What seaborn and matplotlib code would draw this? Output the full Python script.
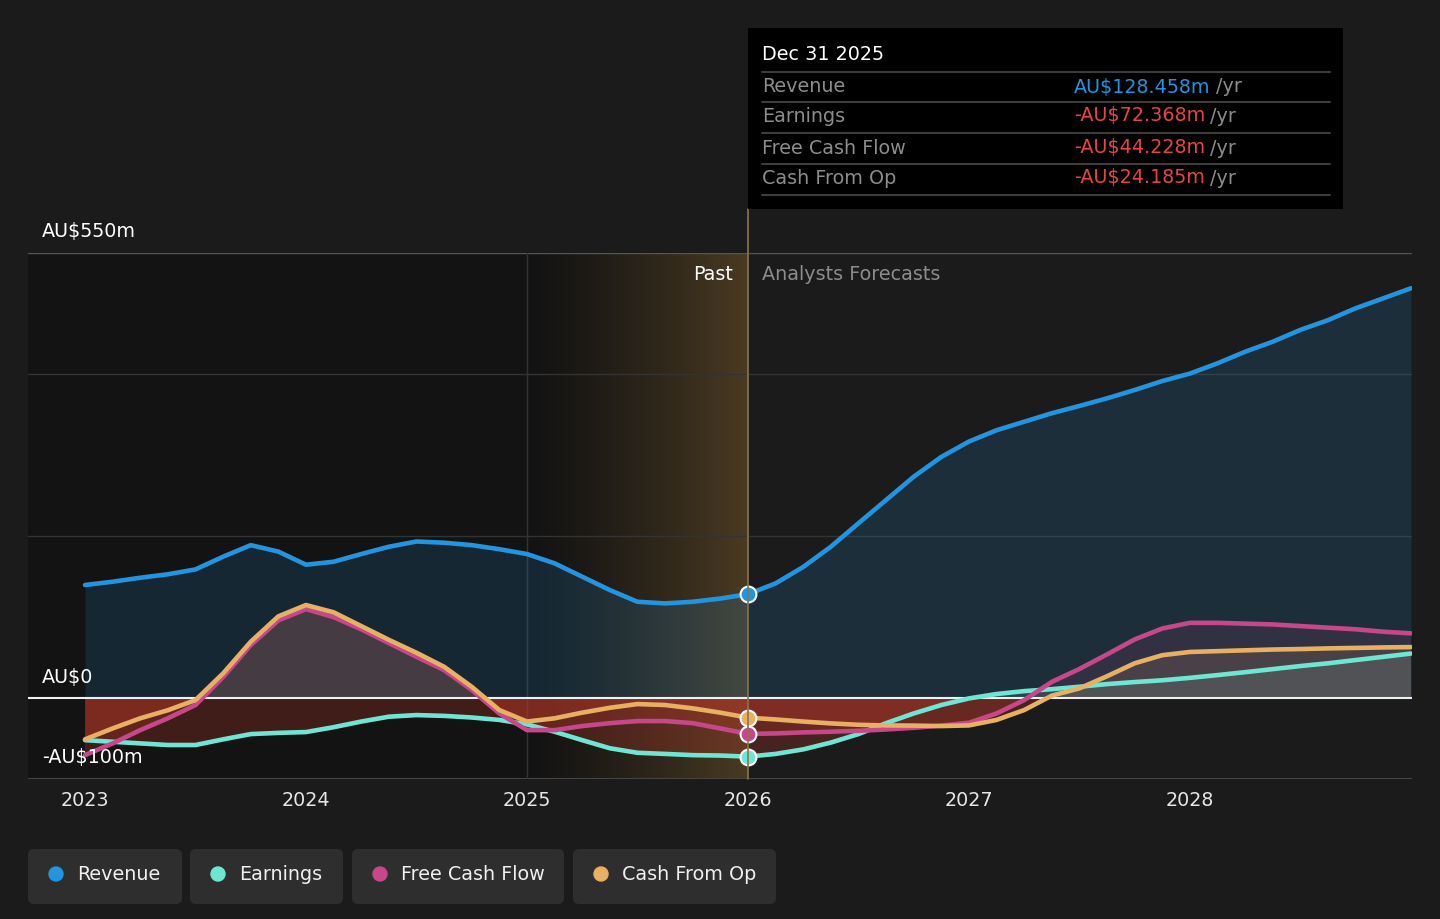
import matplotlib
matplotlib.use('Agg')

import matplotlib.pyplot as plt
import matplotlib.transforms as mtransforms
from matplotlib.patches import FancyBboxPatch, Rectangle
from matplotlib.lines import Line2D
import numpy as np
import pandas as pd
import seaborn as sns

sns.set_style("dark")
plt.rcParams['font.family'] = ['DejaVu Sans']

# values (AU$ m), every 1/8 year from 2023 to 2029
years = list(np.arange(49) / 8 + 2023)
revenue = [139.7, 143.8, 148.7, 153, 159, 174.7, 189, 181,
           164.8, 168.5, 178, 187, 193.5, 192, 189, 184,
           178, 166.5, 150, 133.5, 119, 117, 119, 123,
           128.458, 141.7, 162, 187, 216, 244.7, 273.5, 298,
           317, 331, 341.5, 352, 361, 370.4, 380.7, 391.8,
           401, 413.7, 428, 440.4, 455, 467, 481.7, 494, 506.4]
earnings = [-52, -54, -56, -58, -58, -51, -44.5, -43,
            -42, -36, -29, -23, -21, -22, -24, -27,
            -32.5, -41.6, -52, -62, -67.6, -69, -70.5, -71,
            -72.368, -69, -63.4, -55, -44.5, -31, -19, -8.6,
            -0.4, 5, 8.6, 11, 14, 17.3, 19.8, 22,
            25, 28.4, 32, 35.8, 39.6, 43, 47, 51, 55]
free_cash_flow = [-70.5, -56, -39.6, -25, -8.6, 26, 65.5, 96,
                  110, 100, 85, 68, 51, 34.6, 10, -19,
                  -39.6, -39.6, -34.6, -31, -28.4, -28.4, -31, -37.5,
                  -44.228, -43.7, -42.4, -41.6, -40.4, -38.8, -36.7, -34,
                  -30.5, -19, -2.5, 20, 36, 54, 72.5, 86,
                  93, 93, 92, 91, 89, 87, 85, 82, 80]
cash_from_op = [-51, -37.5, -25, -15, -2.5, 30.5, 69.6, 101,
                115, 106, 89, 72, 56, 38.7, 14, -14.8,
                -29, -25, -18, -12, -7.4, -8.6, -12.7, -18,
                -24.185, -26.4, -29, -31.3, -33, -33.8, -34, -34.6,
                -33.8, -27, -14.8, 3, 12, 27, 43, 53,
                57, 58, 59, 60, 60.6, 61.4, 62, 62.6, 63]

series_names = ["Revenue", "Earnings", "Free Cash Flow", "Cash From Op"]
series_vals = [revenue, earnings, free_cash_flow, cash_from_op]
colors = ["#2394df", "#6ee6d3", "#c7478b", "#e8b062"]

y_ticks = [550, 0, -100]
y_tick_labels = ["AU$550m", "AU$0", "-AU$100m"]
grid_vals = [400, 200]
x_ticks = [2023, 2024, 2025, 2026, 2027, 2028]

tip_title = "Dec 31 2025"
tip_values = ["AU$128.458m", "-AU$72.368m", "-AU$44.228m", "-AU$24.185m"]

BG = "#1b1b1b"
W, H = 1440, 919
FS = 13.8

df = pd.DataFrame({"year": years})
for n, v in zip(series_names, series_vals):
    df[n] = v
long = df.melt(id_vars="year", var_name="series", value_name="value")

fig = plt.figure(figsize=(W / 100, H / 100), dpi=100, facecolor=BG, edgecolor=BG)
fig.patch.set_linewidth(0)
# full background so no half-covered pixel at the edge
fig.add_artist(Rectangle((-0.05, -0.05), 1.1, 1.1, transform=fig.transFigure,
                         facecolor=BG, edgecolor="none", antialiased=False, zorder=-10))
ax = fig.add_axes([28 / W, 1 - 779 / H, 1384 / W, 526 / H])
ax.set_facecolor(BG)
xmin, xmax = 2023 - 57 / 221, 2029.005
for s in ax.spines.values():
    s.set_visible(False)

# past region shading + highlighted last year
ax.axvspan(xmin, 2025, color="#131313", zorder=0, lw=0)
grad = np.zeros((1, 256, 4))
c0 = np.array([0x13, 0x13, 0x13]) / 255
c1 = np.array([0x4a, 0x3a, 0x22]) / 255
t = np.linspace(0, 1, 256) ** 1.3
grad[0, :, :3] = c0 + (c1 - c0) * t[:, None]
grad[0, :, 3] = 1
ax.imshow(grad, extent=[2025, 2026, -100, 550], aspect="auto", zorder=0.5)
ax.set_xlim(xmin, xmax)
ax.set_ylim(-100, 550)

# grid lines
ax.axhline(550, color="#555555", lw=1, zorder=1)
for g in grid_vals:
    ax.axhline(g, color="#333333", lw=1, zorder=1)
ax.axhline(-100, color="#444444", lw=1.5, zorder=1)
ax.axvline(2025, color="#333333", lw=1, zorder=1)

# area fills
yr = np.array(years)
ax.fill_between(yr, revenue, 0, color=colors[0], alpha=0.16, lw=0, zorder=2)
for v, c in zip(series_vals[1:], colors[1:]):
    v = np.array(v, dtype=float)
    ax.fill_between(yr, v, 0, where=v <= 0, interpolate=True, color="#c0392b", alpha=0.27, lw=0, zorder=2)
    ax.fill_between(yr, v, 0, where=v >= 0, interpolate=True, color=c, alpha=0.13, lw=0, zorder=2)

ax.axhline(0, color="#f0f0f0", lw=1.5, zorder=3)

sns.lineplot(data=long, x="year", y="value", hue="series", hue_order=series_names,
             palette=colors, linewidth=3.3, legend=False, ax=ax, zorder=4)
for l in ax.get_lines()[-4:]:
    l.set_solid_capstyle("round")
    l.set_solid_joinstyle("round")

# markers at Dec 31 2025
idx = 24
for v, c in zip(series_vals, colors):
    ax.scatter([years[idx]], [v[idx]], s=130, color=c, edgecolor="white", linewidth=1.5, zorder=6)

# vertical marker line extending to tooltip
fig.add_artist(Line2D([748 / W, 748 / W], [1 - 779 / H, 1 - 209 / H], color="#8a7450", lw=1.2, zorder=1))

# ticks
ax.set_xticks(x_ticks)
ax.set_xticklabels([str(x) for x in x_ticks], color="#e6e6e6", fontsize=FS)
ax.tick_params(axis="x", length=7, color="#444444", width=1.5, pad=2)
ax.set_yticks([])
ax.set_xlabel("")
ax.set_ylabel("")


def fx(x):
    return x / W


def fy(y):
    return 1 - y / H


for v, lab in zip(y_ticks, y_tick_labels):
    ypix = 779 - (v + 100) * 526 / 650
    fig.text(fx(42), fy(ypix - 21), lab, color="#ffffff", fontsize=FS, va="center", ha="left")

fig.text(fx(733), fy(274), "Past", color="#ffffff", fontsize=FS, va="center", ha="right")
fig.text(fx(762), fy(274), "Analysts Forecasts", color="#8c8c8c", fontsize=FS, va="center", ha="left")

# tooltip
fig.add_artist(Rectangle((fx(748), fy(209)), 595 / W, 181 / H, transform=fig.transFigure,
                         facecolor="#000000", edgecolor="none", zorder=5))
fig.text(fx(762), fy(55), tip_title, color="#ffffff", fontsize=FS, va="center", ha="left", zorder=6)
for yline in [72, 102, 133, 164, 195]:
    fig.add_artist(Line2D([fx(762), fx(1330)], [fy(yline), fy(yline)], color="#3c3c3c", lw=1.5, zorder=6))
row_y = [87, 116, 148, 178]
fig.canvas.draw()
renderer = fig.canvas.get_renderer()
for n, val, yrow in zip(series_names, tip_values, row_y):
    fig.text(fx(762), fy(yrow), n, color="#8c8c8c", fontsize=FS, va="center", ha="left", zorder=6)
    vc = "#2394df" if not val.startswith("-") else "#e5463f"
    tv = fig.text(fx(1074), fy(yrow), val, color=vc, fontsize=FS, va="center", ha="left", zorder=6)
    bb = tv.get_window_extent(renderer)
    fig.text(fx(bb.x1 + 5), fy(yrow), "/yr", color="#8c8c8c", fontsize=FS, va="center", ha="left", zorder=6)

# legend buttons
ident = mtransforms.IdentityTransform()
buttons = [(28, 182), (190, 343), (352, 564), (573, 776)]
for (x0, x1), n, c in zip(buttons, series_names, colors):
    fig.add_artist(FancyBboxPatch((x0, H - 904), x1 - x0, 55, boxstyle="round,pad=0,rounding_size=6",
                                  transform=ident, facecolor="#2e2e2e", edgecolor="none"))
    fig.add_artist(plt.Circle((x0 + 28, H - 874), 7, transform=ident, color=c))
    fig.text(fx(x0 + 49), fy(874), n, color="#f0f0f0", fontsize=FS, va="center", ha="left")

fig.savefig("out.png", dpi=100, facecolor=BG, edgecolor=BG)
